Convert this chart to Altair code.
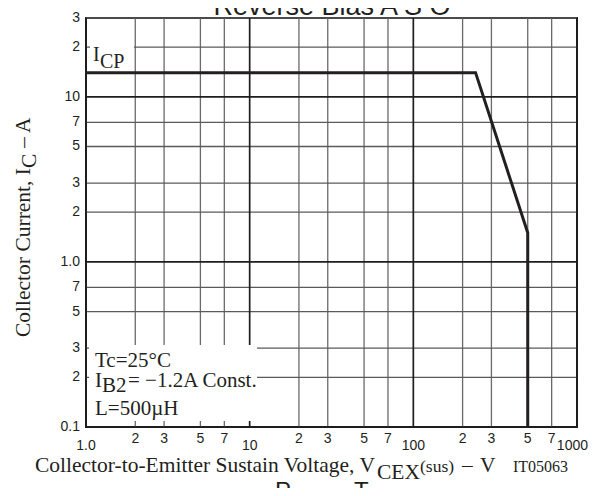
import math
import altair as alt
import pandas as pd

# ---------------- data ----------------
x_ticks = [1, 2, 3, 5, 7, 10, 20, 30, 50, 70, 100, 200, 300, 500, 700, 1000]
x_tick_labels = ["1.0", "2", "3", "5", "7", "10", "2", "3", "5", "7",
                 "100", "2", "3", "5", "7", "1000"]
y_ticks = [0.1, 0.2, 0.3, 0.5, 0.7, 1, 2, 3, 5, 7, 10, 20, 30]
y_tick_labels = ["0.1", "2", "3", "5", "7", "1.0", "2", "3", "5", "7",
                 "10", "2", "3"]

# Reverse-bias ASO boundary: V_CEX(sus) [V] vs I_C [A]
curve_v = [1, 240, 500, 500]
curve_i = [14, 14, 1.5, 0.1]

INK = "#231f20"
SERIF = "Liberation Serif"
SANS = "Liberation Sans"

W, H = 491, 409

xs = alt.Scale(type="log", domain=[1, 1000], nice=False)
ys = alt.Scale(type="log", domain=[0.1, 30], nice=False)


def is_decade(v):
    return abs(math.log10(v) - round(math.log10(v))) < 1e-9


xdf = pd.DataFrame({"v": x_ticks, "lab": x_tick_labels,
                    "major": [is_decade(v) for v in x_ticks]})
ydf = pd.DataFrame({"v": y_ticks, "lab": y_tick_labels,
                    "major": [is_decade(v) for v in y_ticks]})
cdf = pd.DataFrame({"v": curve_v, "i": curve_i, "o": list(range(len(curve_v)))})


def vrules(df, color, width):
    return alt.Chart(df).mark_rule(color=color, strokeWidth=width).encode(
        x=alt.X("v:Q", scale=xs, axis=None))


def hrules(df, color, width):
    return alt.Chart(df).mark_rule(color=color, strokeWidth=width).encode(
        y=alt.Y("v:Q", scale=ys, axis=None))


def box(x1, x2, y1, y2):
    return alt.Chart(pd.DataFrame({"k": [0]})).mark_rect(color="white").encode(
        x=alt.value(x1), x2=alt.value(x2), y=alt.value(y1), y2=alt.value(y2))


def txt(s, x, y, size, font=SERIF, angle=None, align="left"):
    kw = dict(font=font, fontSize=size, color=INK, align=align,
              baseline="alphabetic")
    if angle is not None:
        kw["angle"] = angle
    return alt.Chart(pd.DataFrame({"t": [s]})).mark_text(**kw).encode(
        text="t:N", x=alt.value(x), y=alt.value(y))


minor_x = vrules(xdf[~xdf.major], "#6a6a6a", 1.3)
major_x = vrules(xdf[xdf.major], "#1e1e1e", 1.7)
minor_y = hrules(ydf[~ydf.major], "#5a5a5a", 1.3)
major_y = hrules(ydf[ydf.major], "#1e1e1e", 1.7)

curve = alt.Chart(cdf).mark_line(
    color=INK, strokeWidth=3, strokeJoin="miter", strokeCap="butt"
).encode(
    x=alt.X("v:Q", scale=xs, axis=None),
    y=alt.Y("i:Q", scale=ys, axis=None),
    order="o:O",
)

# tick labels
lab_style = dict(font=SANS, fontSize=14, color=INK, baseline="alphabetic")
xmaj = xdf[xdf.major]
xlab_major = alt.Chart(xmaj.iloc[:-1]).mark_text(align="center", **lab_style).encode(
    x=alt.X("v:Q", scale=xs, axis=None), y=alt.value(432), text="lab:N")
xlab_last = alt.Chart(xmaj.iloc[-1:]).mark_text(align="right", dx=11, **lab_style).encode(
    x=alt.X("v:Q", scale=xs, axis=None), y=alt.value(432), text="lab:N")
xlab_minor = alt.Chart(xdf[~xdf.major]).mark_text(align="center", **lab_style).encode(
    x=alt.X("v:Q", scale=xs, axis=None), y=alt.value(425), text="lab:N")
ylab = alt.Chart(ydf).mark_text(
    font=SANS, fontSize=14, color=INK, align="right", baseline="middle"
).encode(x=alt.value(-6), y=alt.Y("v:Q", scale=ys, axis=None), text="lab:N")

texts = [
    # title (top) and bottom caption
    txt("Reverse Bias A S O", 246, -3, 27, font=SANS, align="center"),
    txt("P", 189, 481, 24, font=SANS),
    txt("C", 206, 483, 18, font=SANS),
    txt("–", 249, 481, 24, font=SANS),
    txt("T", 268, 481, 24, font=SANS),
    txt("C", 283, 483, 18, font=SANS),
    # in-plot labels
    txt("I", 7, 43, 20),
    txt("CP", 14, 50, 20),
    txt("Tc=25°C", 9, 349, 21),
    txt("I", 9, 369, 21),
    txt("B2", 16, 374, 21),
    txt("= −1.2A Const.", 42, 369, 21),
    txt("L=500µH", 9, 397, 21),
    # x-axis title
    txt("Collector-to-Emitter Sustain Voltage, V", -51, 454, 21.5),
    txt("CEX", 291, 461, 21.5),
    txt("(sus)", 334, 454, 17.5),
    txt("–", 376, 454, 21.5),
    txt("V", 394, 454, 21.5),
    txt("IT05063", 427, 454, 16),
    # y-axis title (rotated)
    txt("Collector Current, I", -56, 319, 21.5, angle=270),
    txt("C", -50, 150, 21.5, angle=270),
    txt("– A", -56, 130, 21.5, angle=270),
]

chart = alt.layer(
    minor_x, minor_y, major_x, major_y,
    box(4, 48, 17, 52),
    box(3, 171, 327, 403),
    curve,
    xlab_major, xlab_last, xlab_minor, ylab,
    *texts,
).properties(
    width=W,
    height=H,
    autosize=alt.AutoSizeParams(type="none"),
    padding={"left": 78, "top": 10, "right": 11, "bottom": 61},
    background="white",
).configure_view(stroke=INK, strokeWidth=2)

chart.save("out.html", embed_options={"renderer": "svg", "actions": False})
